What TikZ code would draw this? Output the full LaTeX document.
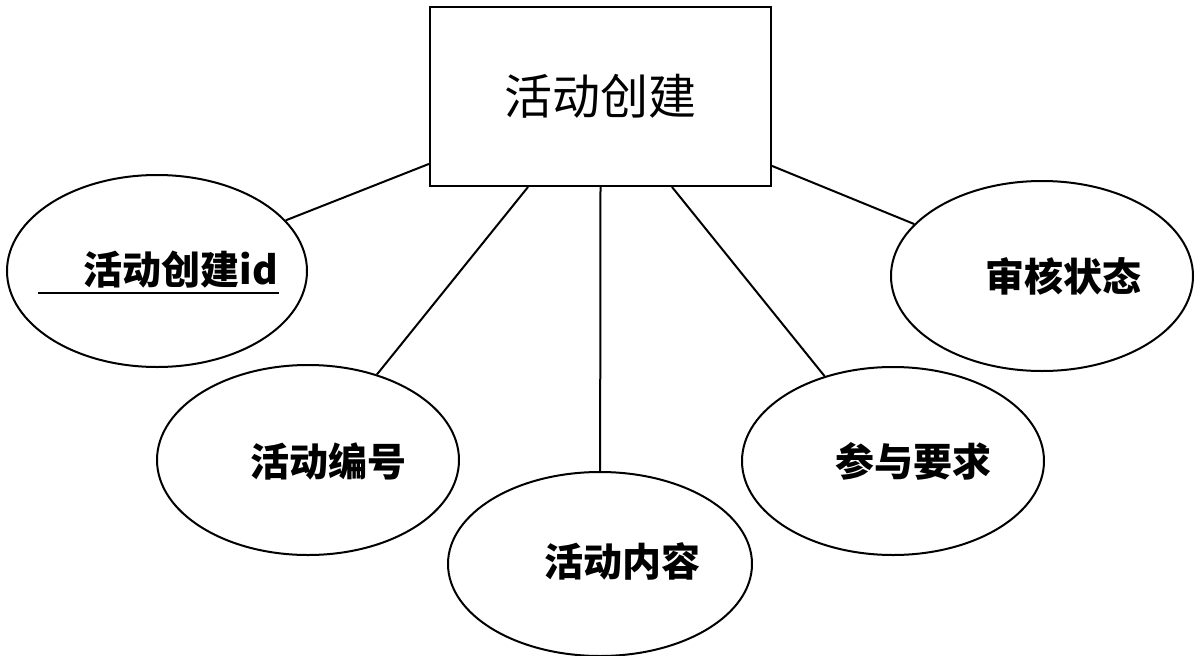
\documentclass[tikz,border=0pt]{standalone}
\usepackage{fontspec}
\newfontfamily\cjk{Noto Sans CJK SC}
\usetikzlibrary{shapes.geometric}
\begin{document}
\begin{tikzpicture}[x=1pt,y=-1pt,
  attr/.style={draw,line width=2pt,ellipse,inner sep=0pt},
  lbl/.style={font=\cjk\bfseries\fontsize{39}{44}\selectfont},
  conn/.style={line width=2pt}]
\useasboundingbox (0,0) rectangle (1200,656);
\node[draw,line width=2pt,minimum width=341pt,minimum height=179pt,font=\cjk\fontsize{48}{54}\selectfont] (r) at (600.5,96.5) {活动创建};
\node[attr,minimum width=300pt,minimum height=192pt] (e1) at (157,271) {};
\node[attr,minimum width=302pt,minimum height=190pt] (e2) at (308,460) {};
\node[attr,minimum width=304pt,minimum height=184pt] (e3) at (600,564) {};
\node[attr,minimum width=302pt,minimum height=188pt] (e4) at (893,461) {};
\node[attr,minimum width=302pt,minimum height=190pt] (e5) at (1042,276) {};
\node[lbl] (t1) at (181,270) {活动创建id};
\draw[line width=2pt] (38,293) -- (279,293);
\node[lbl] (t2) at (328,461) {活动编号};
\node[lbl] (t3) at (622,561) {活动内容};
\node[lbl] (t4) at (913,461) {参与要求};
\node[lbl] (t5) at (1063,276) {审核状态};
\draw[conn] (r) -- (e1);
\draw[conn] (r.south -| 528,0) -- (e2);
\draw[conn] (r.south) -- (e3);
\draw[conn] (r.south -| 672,0) -- (e4);
\draw[conn] (r) -- (e5);
\end{tikzpicture}
\end{document}
